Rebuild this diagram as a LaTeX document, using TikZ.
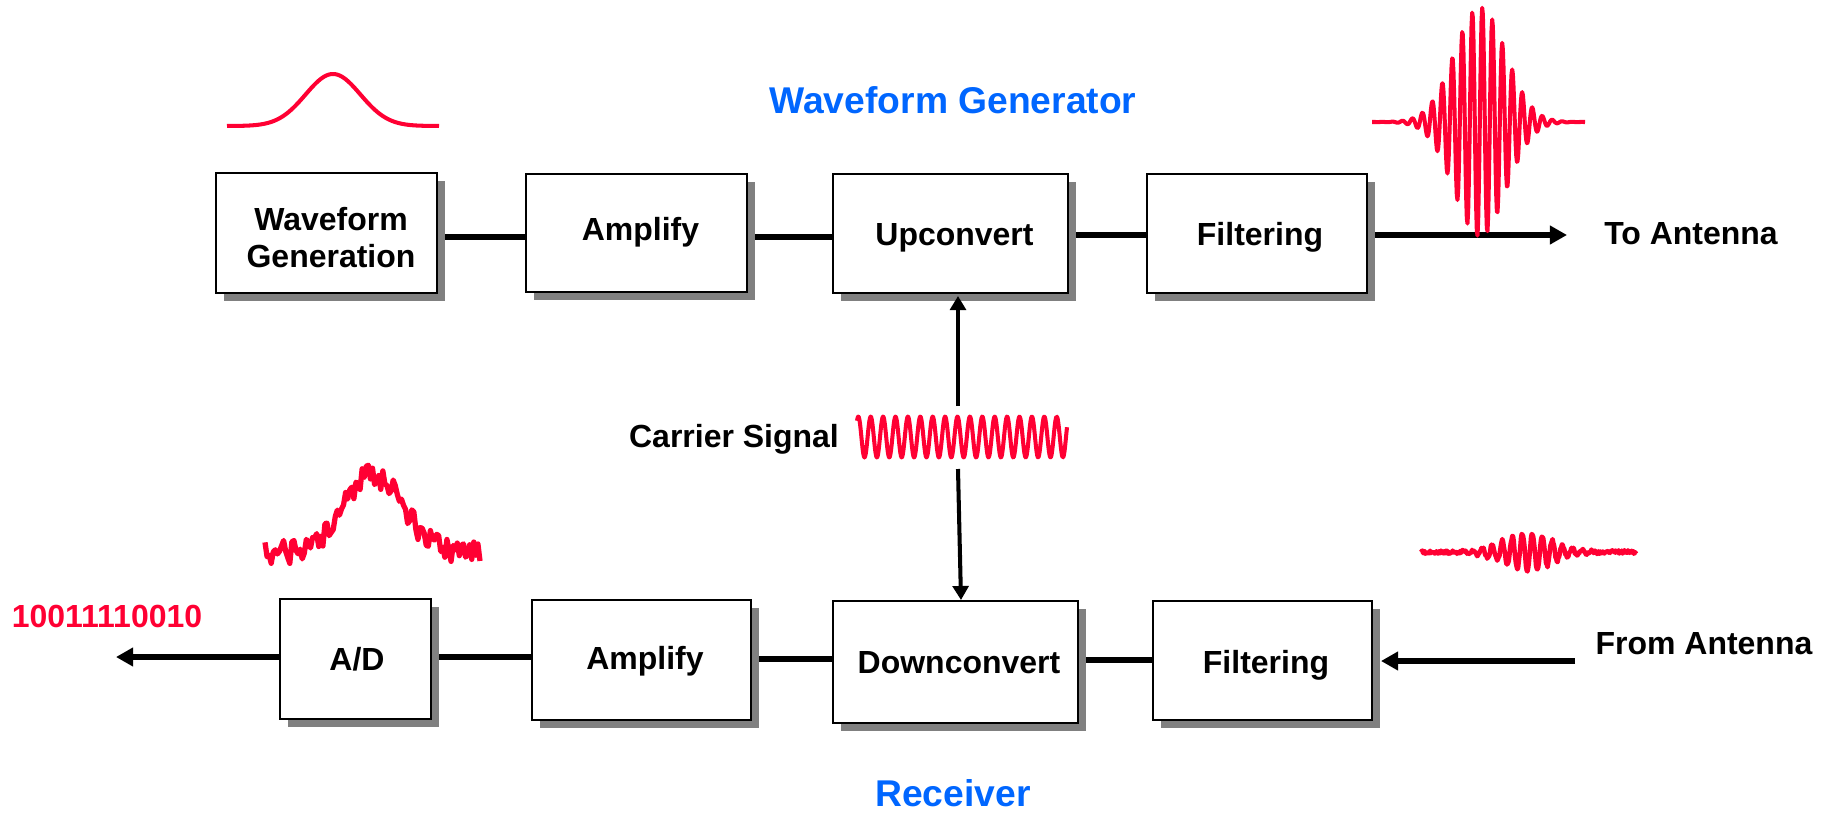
\documentclass[tikz,border=0pt]{standalone}
\usepackage{fontspec}
\setmainfont{Liberation Sans}
\usetikzlibrary{arrows.meta,shadows,backgrounds}
\definecolor{sigred}{HTML}{FF0033}
\definecolor{capblue}{HTML}{0066FF}
\definecolor{shadowgray}{HTML}{808080}
\tikzset{
  block/.style={draw=black,fill=white,line width=1.5pt,inner sep=0pt,
    drop shadow={shadow xshift=.16cm,shadow yshift=-.16cm,fill=shadowgray,opacity=1}},
  lbl/.style={anchor=base,align=center,inner sep=0pt,font=\fontsize{18.2}{21}\selectfont\bfseries},
  caption/.style={anchor=base,inner sep=0pt,text=capblue,font=\fontsize{21.2}{25}\selectfont\bfseries},
  wire/.style={line width=3.4pt},
  sigwire/.style={wire,-{Triangle[length=9.7pt,width=10.2pt]}},
  carwire/.style={line width=2.3pt,-{Triangle[length=8pt,width=9pt]}},
  wave/.style={sigred,line width=2.3pt,line join=round}
}
\begin{document}
\begin{tikzpicture}[x=.02cm,y=-.02cm]
  \useasboundingbox (0,0) rectangle (1830,812);

  % waveform generator row
  \node[block,minimum width=4.42cm,minimum height=2.4cm] (wavegen) at (326.5,233) {};
  \node[block,minimum width=4.42cm,minimum height=2.36cm] (amptop) at (636.5,233) {};
  \node[block,minimum width=4.7cm,minimum height=2.38cm] (upconv) at (950.5,233.5) {};
  \node[block,minimum width=4.4cm,minimum height=2.38cm] (filttop) at (1257,233.5) {};

  % receiver row
  \node[block,minimum width=3.02cm,minimum height=2.4cm] (adconv) at (355.5,659) {};
  \node[block,minimum width=4.38cm,minimum height=2.4cm] (ampbot) at (641.5,660) {};
  \node[block,minimum width=4.9cm,minimum height=2.44cm] (downconv) at (955.5,662) {};
  \node[block,minimum width=4.38cm,minimum height=2.38cm] (filtbot) at (1262.5,660.5) {};

  % box labels
  \node[lbl] (wavegenlbl) at (331,267) {Waveform\\[-.5pt]Generation};
  \node[lbl] (amptoplbl) at (640.5,240) {Amplify};
  \node[lbl] (upconvlbl) at (954.5,245) {Upconvert};
  \node[lbl] (filttoplbl) at (1260,245) {Filtering};
  \node[lbl] (adconvlbl) at (357,670) {A/D};
  \node[lbl] (ampbotlbl) at (645,669) {Amplify};
  \node[lbl] (downconvlbl) at (959,673) {Downconvert};
  \node[lbl] (filtbotlbl) at (1266,673) {Filtering};

  % free labels
  \node[caption] (gencap) at (953,113) {Waveform Generator};
  \node[caption] (reccap) at (953,806) {Receiver};
  \node[lbl] (toant) at (1691,244) {To Antenna};
  \node[lbl] (fromant) at (1704,654) {From Antenna};
  \node[lbl] (carrier) at (734,447) {Carrier Signal};
  \node[lbl,text=sigred] (bits) at (107,627) {10011110010};

  \coordinate (toend) at (1567,235);
  \coordinate (fromstart) at (1575,661);
  \coordinate (fromend) at (1381,661);
  \coordinate (bitsend) at (116,657);
  \coordinate (carup) at (958,406);
  \coordinate (carupend) at (958,296);
  \coordinate (cardown) at (958,469);
  \coordinate (cardownend) at (961,600);

  \begin{scope}[on background layer]
    \draw[wire] (wavegen.east |- 0,237) -- (amptop.west |- 0,237);
    \draw[wire] (amptop.east |- 0,237) -- (upconv.west |- 0,237);
    \draw[wire] (upconv.east |- 0,235) -- (filttop.west |- 0,235);
    \draw[sigwire] (filttop.east |- toend) -- (toend);
    \draw[wire] (adconv.east |- 0,657) -- (ampbot.west |- 0,657);
    \draw[wire] (ampbot.east |- 0,659) -- (downconv.west |- 0,659);
    \draw[wire] (downconv.east |- 0,660) -- (filtbot.west |- 0,660);
    \draw[sigwire] (adconv.west |- bitsend) -- (bitsend);
  \end{scope}
  \draw[sigwire] (fromstart) -- (fromend);
  \draw[carwire] (carup) -- (carupend);
  \draw[carwire] (cardown) -- (cardownend);

  % signal sketches
  \draw[wave] plot[domain=227:439,samples=110] (\x,{126-52*exp(-(\x-333)*(\x-333)/1500)});
  \draw[wave] plot[domain=-108:105,samples=320]
    (1480+\x,{122-115*exp(-\x*\x/1326)*cos(36*(\x-2.3))});
  \draw[wave] plot[domain=857:1067,samples=340]
    (\x,{437-20.5*cos(29.03*(\x-870.7))});
  \pgfmathsetseed{4711}
  \draw[wave,line width=3pt] plot[domain=265:480,samples=105]
    (\x,{553-78*exp(-(\x-373)*(\x-373)/1700)+12*rand});
  \draw[wave,line width=2.6pt] plot[domain=-107:108,samples=300]
    (1528+\x,{552-19*exp(-\x*\x/1250)*cos(36*(\x+5.7))+1.8*rand});
\end{tikzpicture}
\end{document}
